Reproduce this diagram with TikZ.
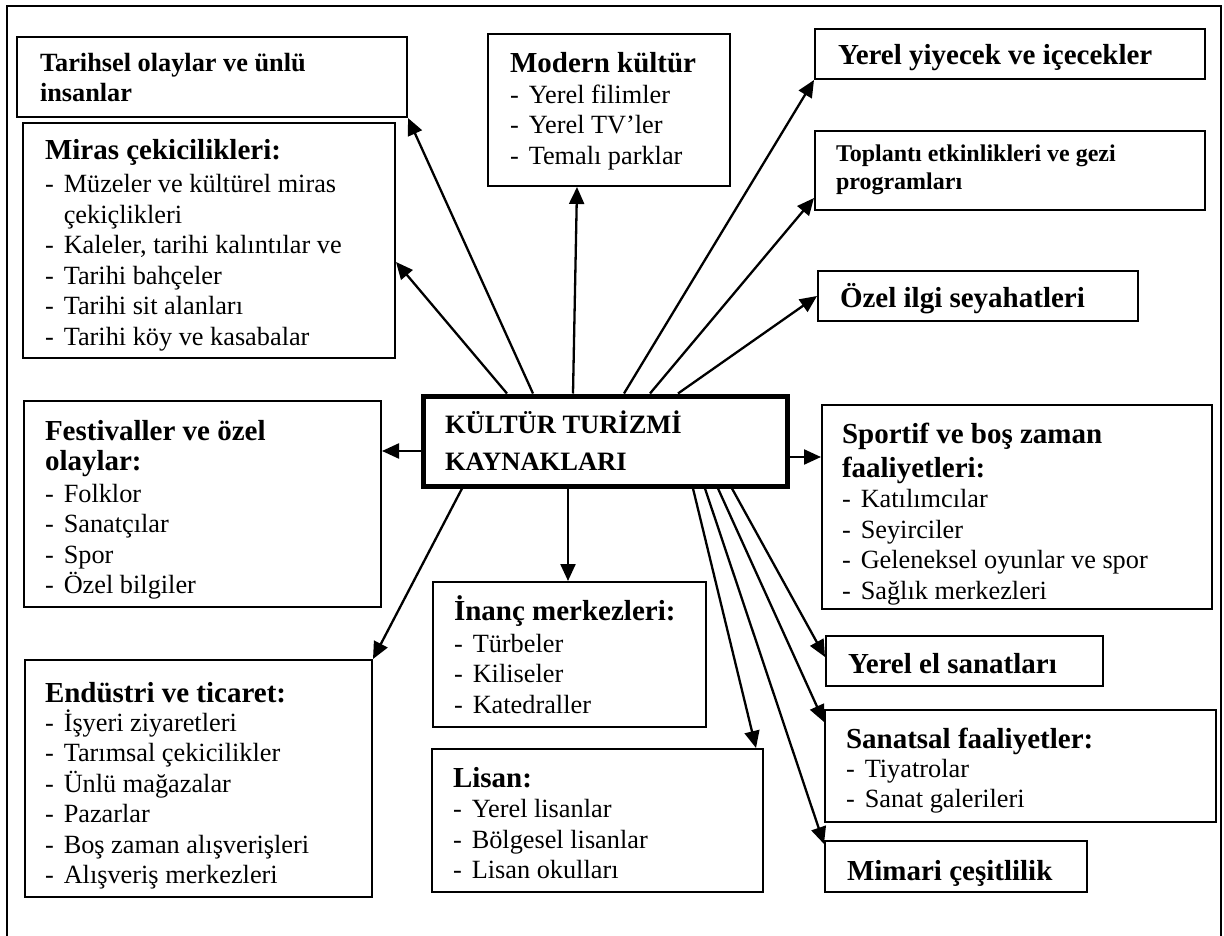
\documentclass[tikz,border=0pt]{standalone}
\usepackage{fontspec}
\setmainfont{Liberation Serif}
\usetikzlibrary{arrows.meta,fit,calc}
\newcommand\bodyf{\fontsize{26.3pt}{30.5pt}\selectfont}
\newcommand\titlef{\fontsize{29pt}{30.5pt}\selectfont\bfseries}
\newcommand\ttl[1]{\multicolumn{2}{@{}l@{}}{\titlef\smash{#1}}}
\newcommand\itm[1]{-&\smash{#1}}
\newenvironment{lst}{\bodyf\begin{tabular}[t]{@{}l@{\hspace{10pt}}l@{}}}{\end{tabular}}
\begin{document}
\begin{tikzpicture}[x=1pt,y=-1pt,
  box/.style={draw, line width=2pt, inner sep=0pt},
  cbox/.style={draw, line width=5pt, inner sep=0pt},
  txt/.style={anchor=base west, inner sep=0pt, outer sep=0pt},
  arr/.style={line width=2.3pt, -{Triangle[length=17pt,width=15pt]}}]
\useasboundingbox (0,0) rectangle (1224,936);
\draw[line width=2pt] (7,945) -- (7,6) -- (1221,6) -- (1221,945);

% boxes
\node[box, fit={(17,37) (407,117)}] (tarih) {};
\node[box, fit={(23,123) (395,358)}] (miras) {};
\node[box, fit={(488,34) (730,186)}] (modern) {};
\node[box, fit={(815,29) (1205,79)}] (yiyecek) {};
\node[box, fit={(815,131) (1205,210)}] (toplanti) {};
\node[box, fit={(818,271) (1138,321)}] (ozel) {};
\node[box, fit={(24,401) (381,607)}] (festival) {};
\node[box, fit={(822,405) (1212,609)}] (sportif) {};
\node[box, fit={(433,582) (706,727)}] (inanc) {};
\node[box, fit={(432,749) (763,892)}] (lisan) {};
\node[box, fit={(25,660) (372,897)}] (endustri) {};
\node[box, fit={(826,636) (1103,686)}] (yerelel) {};
\node[box, fit={(825,710) (1216,822)}] (sanatsal) {};
\node[box, fit={(825,841) (1087,892)}] (mimari) {};
\node[cbox, fit={(423,396) (787,486)}] (center) {};

% texts
\begin{scope}\clip (tarih.north west) rectangle (tarih.south east);
\node[txt] (tarih-t) at (40,72) {\fontsize{26.3pt}{30pt}\selectfont\bfseries\begin{tabular}[t]{@{}l@{}}Tarihsel olaylar ve ünlü\\insanlar\end{tabular}};
\end{scope}
\begin{scope}\clip (miras.north west) rectangle (miras.south east);
\node[txt] (miras-t) at (45,160) {\begin{lst}\ttl{Miras çekicilikleri:}\\[2.5pt]
\itm{Müzeler ve kültürel miras}\\ & çekiçlikleri\\ \itm{Kaleler, tarihi kalıntılar ve}\\ \itm{Tarihi bahçeler}\\ \itm{Tarihi sit alanları}\\ \itm{Tarihi köy ve kasabalar}\end{lst}};
\end{scope}
\begin{scope}\clip (modern.north west) rectangle (modern.south east);
\node[txt] (modern-t) at (510,73) {\begin{lst}\ttl{Modern kültür}\\
\itm{Yerel filimler}\\ \itm{Yerel TV’ler}\\ \itm{Temalı parklar}\end{lst}};
\end{scope}
\begin{scope}\clip (yiyecek.north west) rectangle (yiyecek.south east);
\node[txt] (yiyecek-t) at (838,65) {\titlef Yerel yiyecek ve içecekler};
\end{scope}
\begin{scope}\clip (toplanti.north west) rectangle (toplanti.south east);
\node[txt] (toplanti-t) at (836,162) {\fontsize{24pt}{28pt}\selectfont\bfseries\begin{tabular}[t]{@{}l@{}}Toplantı etkinlikleri ve gezi\\programları\end{tabular}};
\end{scope}
\begin{scope}\clip (ozel.north west) rectangle (ozel.south east);
\node[txt] (ozel-t) at (840,307) {\titlef Özel ilgi seyahatleri};
\end{scope}
\begin{scope}\clip (festival.north west) rectangle (festival.south east);
\node[txt] (festival-t) at (45,440) {\begin{lst}\ttl{Festivaller ve özel}\\ \ttl{olaylar:}\\[1pt]
\itm{Folklor}\\ \itm{Sanatçılar}\\ \itm{Spor}\\ \itm{Özel bilgiler}\end{lst}};
\end{scope}
\begin{scope}\clip (sportif.north west) rectangle (sportif.south east);
\node[txt] (sportif-t) at (842,443) {\begin{lst}\ttl{Sportif ve boş zaman}\\[3.5pt] \ttl{faaliyetleri:}\\
\itm{Katılımcılar}\\ \itm{Seyirciler}\\ \itm{Geleneksel oyunlar ve spor}\\ \itm{Sağlık merkezleri}\end{lst}};
\end{scope}
\begin{scope}\clip (inanc.north west) rectangle (inanc.south east);
\node[txt] (inanc-t) at (454,620) {\begin{lst}\ttl{İnanç merkezleri:}\\[1.5pt]
\itm{Türbeler}\\ \itm{Kiliseler}\\ \itm{Katedraller}\end{lst}};
\end{scope}
\begin{scope}\clip (lisan.north west) rectangle (lisan.south east);
\node[txt] (lisan-t) at (453,787) {\begin{lst}\ttl{Lisan:}\\
\itm{Yerel lisanlar}\\ \itm{Bölgesel lisanlar}\\ \itm{Lisan okulları}\end{lst}};
\end{scope}
\begin{scope}\clip (endustri.north west) rectangle (endustri.south east);
\node[txt] (endustri-t) at (45,702) {\begin{lst}\ttl{Endüstri ve ticaret:}\\[-1.5pt]
\itm{İşyeri ziyaretleri}\\ \itm{Tarımsal çekicilikler}\\ \itm{Ünlü mağazalar}\\ \itm{Pazarlar}\\ \itm{Boş zaman alışverişleri}\\ \itm{Alışveriş merkezleri}\end{lst}};
\end{scope}
\begin{scope}\clip (yerelel.north west) rectangle (yerelel.south east);
\node[txt] (yerelel-t) at (848,673) {\titlef Yerel el sanatları};
\end{scope}
\begin{scope}\clip (sanatsal.north west) rectangle (sanatsal.south east);
\node[txt] (sanatsal-t) at (846,748) {\begin{lst}\ttl{Sanatsal faaliyetler:}\\[-1.5pt]
\itm{Tiyatrolar}\\ \itm{Sanat galerileri}\end{lst}};
\end{scope}
\begin{scope}\clip (mimari.north west) rectangle (mimari.south east);
\node[txt] (mimari-t) at (847,880) {\titlef Mimari çeşitlilik};
\end{scope}
\node[txt] (center-t) at (445,433) {\fontsize{26.5pt}{37pt}\selectfont\bfseries\begin{tabular}[t]{@{}l@{}}KÜLTÜR TURİZMİ\\KAYNAKLARI\end{tabular}};

% arrows
\draw[arr] ([xshift=112.5pt]center.north west) -- (tarih.south east);
\draw[arr] ([xshift=86.5pt]center.north west) -- ([yshift=-140pt]miras.north east);
\draw[arr] ([xshift=152.5pt]center.north west) -- ([xshift=90pt]modern.south west);
\draw[arr] ([xshift=203.5pt]center.north west) -- (yiyecek.south west);
\draw[arr] ([xshift=229.5pt]center.north west) -- ([yshift=13pt]toplanti.south west);
\draw[arr] ([xshift=257.5pt]center.north west) -- (ozel.west);
\draw[arr] ([yshift=-10pt]center.west) -- ([yshift=-10pt]center.west -| festival.east);
\draw[arr] ([yshift=-16pt]center.east) -- ([yshift=-16pt]center.east -| sportif.west);
\draw[arr] ([xshift=41.5pt]center.south west) -- (endustri.north east);
\draw[arr] ([xshift=-1.5pt]inanc.north |- center.south) -- ([xshift=-1.5pt]inanc.north);
\draw[arr] ([xshift=272.5pt]center.south west) -- ([xshift=-8pt]lisan.north east);
\draw[arr] ([xshift=284.5pt]center.south west) -- ([yshift=-4pt]mimari.north west);
\draw[arr] ([xshift=297.5pt]center.south west) -- ([yshift=-13pt]sanatsal.north west);
\draw[arr] ([xshift=311.5pt]center.south west) -- ([yshift=-22pt]yerelel.north west);
\end{tikzpicture}
\end{document}
